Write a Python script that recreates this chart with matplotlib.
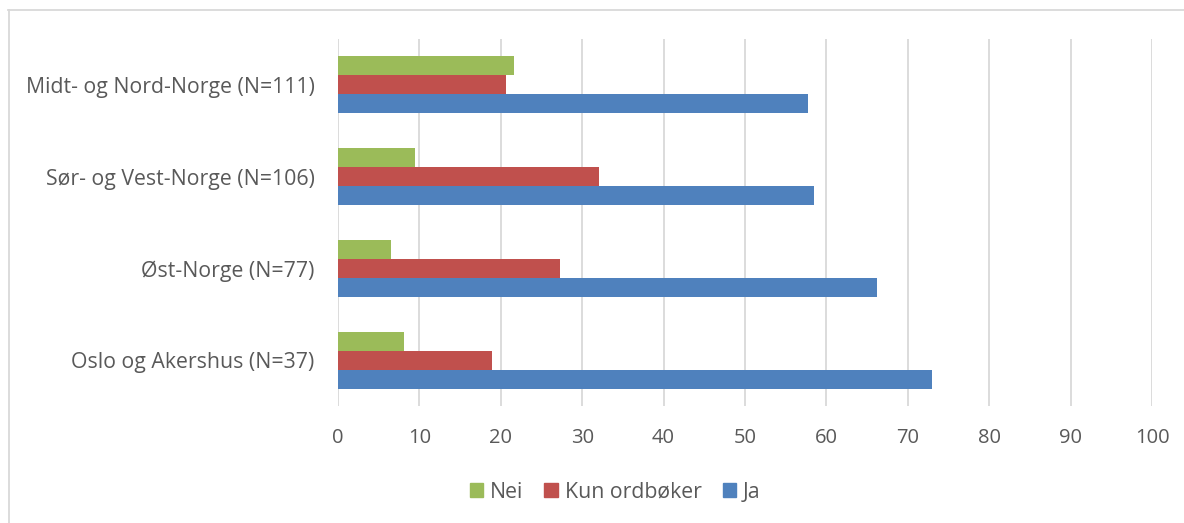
import matplotlib
matplotlib.use("Agg")
import matplotlib.pyplot as plt
from matplotlib.lines import Line2D
import numpy as np

categories = ["Midt- og Nord-Norge (N=111)", "Sør- og Vest-Norge (N=106)",
              "Øst-Norge (N=77)", "Oslo og Akershus (N=37)"]
nei = [21.6, 9.4, 6.5, 8.1]
kun_ordboker = [20.7, 32.1, 27.3, 18.9]
ja = [57.7, 58.5, 66.2, 73.0]
series_names = ["Nei", "Kun ordbøker", "Ja"]
colors = ["#9BBB59", "#C0504D", "#4F81BD"]
xticks = list(range(0, 101, 10))

plt.rcParams['font.family'] = ['Open Sans', 'DejaVu Sans']
text_color = "#595959"

fig = plt.figure(figsize=(11.84, 5.23), dpi=100)
ax = fig.add_axes([338/1184, 1-406/523, (1152-338)/1184, (406-39)/523])

n = len(categories)
y = np.arange(n)[::-1].astype(float)
h = 0.207
series = [nei, kun_ordboker, ja]
offsets = [h, 0, -h]
for vals, name, col, off in zip(series, series_names, colors, offsets):
    ax.barh(y + off, vals, height=h, color=col, label=name, zorder=3)

ax.set_xlim(0, 100)
ax.set_ylim(-0.5, n - 0.5)
ax.set_xticks(xticks)
ax.set_xticklabels([str(t) for t in xticks], fontsize=14.5, color=text_color)
ax.set_yticks(y)
ax.set_yticklabels(categories, fontsize=15.3, color=text_color)
ax.tick_params(axis='x', length=0, pad=16)
ax.tick_params(axis='y', length=0, pad=17)
ax.grid(axis='x', color="#d9d9d9", linewidth=1.3, zorder=0)
for s in ax.spines.values():
    s.set_visible(False)

handles = [plt.Rectangle((0, 0), 1, 1, color=c) for c in colors]
leg = fig.legend(handles, series_names, loc='center', bbox_to_anchor=(615/1184, 1-492/523),
                 ncol=3, frameon=False, fontsize=15.3, handlelength=0.65, handleheight=0.65,
                 handletextpad=0.3, columnspacing=1.0)
for t in leg.get_texts():
    t.set_color(text_color)

fig.add_artist(Line2D([8/1184, 1], [1-10/523, 1-10/523], color="#d9d9d9", lw=1.3))
fig.add_artist(Line2D([8.5/1184, 8.5/1184], [1-10/523, 0], color="#d9d9d9", lw=1.3))

fig.savefig("out.png", dpi=100)
